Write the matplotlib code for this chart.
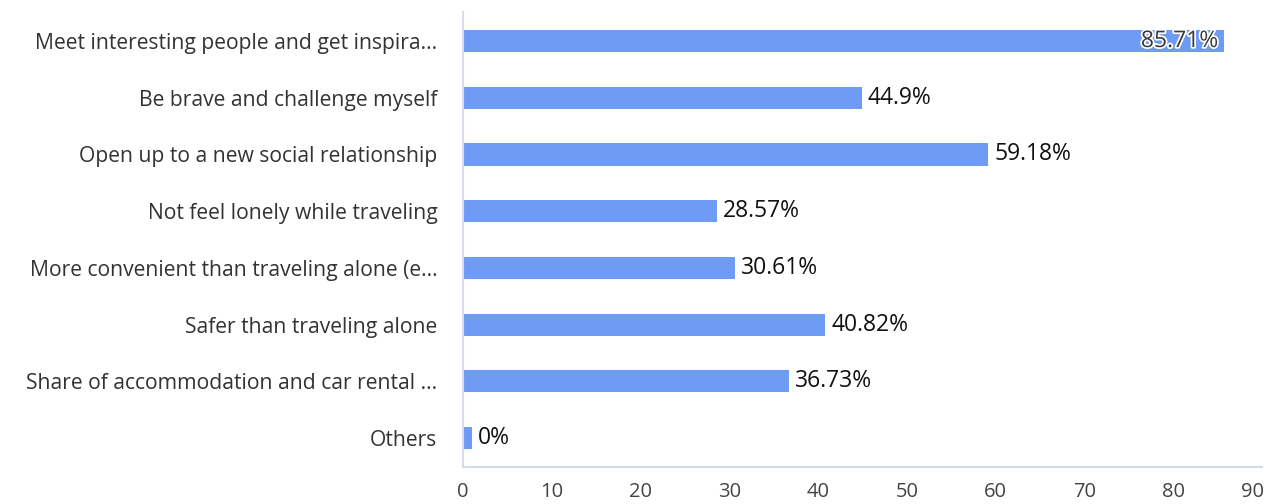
import matplotlib.pyplot as plt
import matplotlib.patheffects as pe
import matplotlib.transforms as mtransforms

plt.rcParams['font.family'] = ['Open Sans', 'DejaVu Sans']

# survey answers, top to bottom
reasons = [
    'Meet interesting people and get inspira...',
    'Be brave and challenge myself',
    'Open up to a new social relationship',
    'Not feel lonely while traveling',
    'More convenient than traveling alone (e...',
    'Safer than traveling alone',
    'Share of accommodation and car rental ...',
    'Others',
]
shares = [85.71, 44.9, 59.18, 28.57, 30.61, 40.82, 36.73, 0]
share_labels = ['85.71%', '44.9%', '59.18%', '28.57%', '30.61%', '40.82%', '36.73%', '0%']
xticks = [0, 10, 20, 30, 40, 50, 60, 70, 80, 90]

fig = plt.figure(figsize=(12.87, 5.04), dpi=100)
ax = fig.add_axes([0.3598, 0.0734, 0.6208, 0.9026])

ypos = list(range(len(reasons)))
# keep a sliver visible for zero answers
widths = [max(v, 1.0) for v in shares]
ax.barh(ypos, widths, height=0.39, color='#6e9cf4')

shift_right = ax.transData + mtransforms.ScaledTranslation(6 / 100, 0, fig.dpi_scale_trans)
for y, v, w, lab in zip(ypos, shares, widths, share_labels):
    if v > 80:
        # label sits inside the bar end when there is no room outside
        ax.text(w - 0.7, y, lab, ha='right', va='center', fontsize=16.5, color='#3a3a3a',
                path_effects=[pe.withStroke(linewidth=2.5, foreground='white')])
    else:
        ax.text(w, y, lab, ha='left', va='center', fontsize=16.5, color='#111111',
                transform=shift_right)

ax.set_yticks(ypos)
ax.set_yticklabels(reasons)
ax.set_ylim(len(reasons) - 0.49, -0.51)
ax.set_xlim(0, 90)
ax.set_xticks(xticks)

ax.tick_params(axis='y', length=0, pad=18.5, labelsize=15.2, labelcolor='#333333')
ax.tick_params(axis='x', length=0, pad=11, labelsize=14.5, labelcolor='#444444')

# last tick label pulled in so it stays inside the canvas
last = ax.get_xticklabels()[-1]
last.set_transform(last.get_transform() + mtransforms.ScaledTranslation(-10 / 100, 0, fig.dpi_scale_trans))

for side in ['top', 'right']:
    ax.spines[side].set_visible(False)
ax.spines['left'].set_color('#d6dcea')
ax.spines['bottom'].set_color('#d6dcea')
ax.spines['left'].set_linewidth(1.5)
ax.spines['bottom'].set_linewidth(1.5)

fig.savefig('out.png', dpi=100)
